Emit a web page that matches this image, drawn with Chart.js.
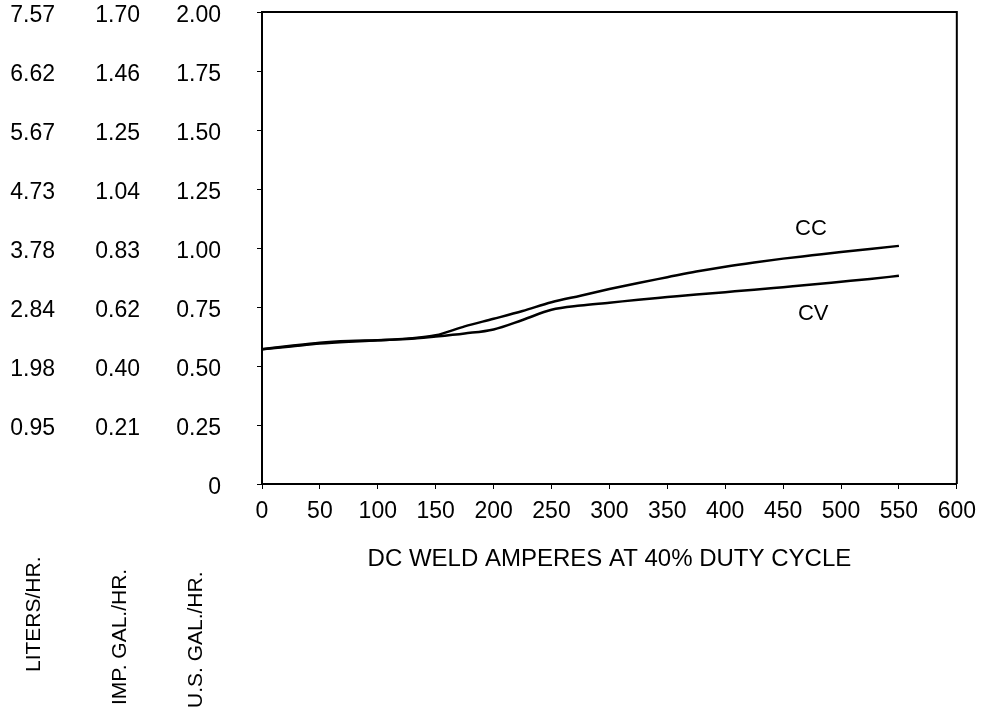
<!DOCTYPE html>
<html>
<head>
<meta charset="utf-8">
<title>Fuel consumption</title>
<script src="https://cdn.jsdelivr.net/npm/chart.js@4.4.1/dist/chart.umd.min.js"></script>
<style>
    html, body { margin: 0; padding: 0; background: #fff; }
    #wrap { position: relative; width: 985px; height: 713px; }
</style>
</head>
<body>
<div id="wrap"><canvas id="fuelChart"></canvas></div>
<script>
// --- Data: fuel use (U.S. gal/hr) against DC weld current ---
const amperes = [0, 25, 50, 75, 100, 125, 150, 175, 200, 225, 250, 275,
                 300, 325, 350, 375, 400, 425, 450, 475, 500, 525, 550];
const ccGalPerHr = [0.571, 0.583, 0.595, 0.603, 0.609, 0.616, 0.630, 0.668, 0.700, 0.733, 0.770, 0.798,
                    0.826, 0.852, 0.876, 0.900, 0.921, 0.939, 0.955, 0.969, 0.983, 0.996, 1.009];
const cvGalPerHr = [0.571, 0.586, 0.599, 0.606, 0.609, 0.614, 0.625, 0.638, 0.655, 0.695, 0.738, 0.756,
                    0.768, 0.781, 0.792, 0.803, 0.813, 0.823, 0.834, 0.845, 0.857, 0.869, 0.882];

// Tick labels for the three unit columns (same positions, 0 .. 2.00 US gal)
const usGalTicks  = ['0', '0.25', '0.50', '0.75', '1.00', '1.25', '1.50', '1.75', '2.00'];
const impGalTicks = ['', '0.21', '0.40', '0.62', '0.83', '1.04', '1.25', '1.46', '1.70'];
const literTicks  = ['', '0.95', '1.98', '2.84', '3.78', '4.73', '5.67', '6.62', '7.57'];

const FONT = "'Liberation Sans', Arial, Helvetica, sans-serif";
Chart.defaults.font.family = FONT;
Chart.defaults.color = '#000';

const tickFont = { size: 23 };

// fixed column width; label overhang is handled by layout.padding instead
function fixWidth(width) {
    return s => {
        s.width = width;
        s.paddingTop = 0;
        s.paddingBottom = 0;
    };
}

// secondary left columns: labels only, no line or tick marks
function unitColumn(labels, weight, width) {
    return {
        type: 'linear',
        position: 'left',
        weight: weight,
        min: 0,
        max: 2,
        ticks: { stepSize: 0.25, autoSkip: false, padding: 15, labelOffset: 4, font: tickFont,
                 callback: (v, i) => labels[i] },
        grid: { display: false, drawTicks: false },
        border: { display: false },
        afterFit: fixWidth(width)
    };
}

// top/right frame of the plot box
const frame = {
    id: 'frame',
    afterDatasetsDraw(chart) {
        const { ctx, chartArea: a } = chart;
        ctx.save();
        ctx.strokeStyle = '#000';
        ctx.lineWidth = 2;
        ctx.beginPath();
        ctx.moveTo(a.left, a.top);
        ctx.lineTo(a.right, a.top);
        ctx.lineTo(a.right, a.bottom);
        ctx.stroke();
        ctx.restore();
    }
};

// CC / CV names placed next to their curves
const seriesTags = {
    id: 'seriesTags',
    afterDatasetsDraw(chart, args, opts) {
        const { ctx, scales } = chart;
        ctx.save();
        ctx.font = `${opts.size}px ${FONT}`;
        ctx.fillStyle = '#000';
        ctx.textAlign = 'center';
        ctx.textBaseline = 'middle';
        opts.items.forEach(t => {
            ctx.fillText(t.text, scales.x.getPixelForValue(t.amp), scales.y.getPixelForValue(t.val));
        });
        ctx.restore();
    }
};

// vertical unit captions under each tick column
const unitCaptions = {
    id: 'unitCaptions',
    afterDraw(chart, args, opts) {
        const { ctx } = chart;
        ctx.save();
        ctx.font = `${opts.size}px ${FONT}`;
        ctx.fillStyle = '#000';
        ctx.textAlign = 'left';
        ctx.textBaseline = 'middle';
        opts.items.forEach(c => {
            ctx.save();
            ctx.translate(c.x, c.bottom);
            ctx.rotate(-Math.PI / 2);
            ctx.fillText(c.text, 0, 0);
            ctx.restore();
        });
        ctx.restore();
    }
};

const ctx = document.getElementById('fuelChart').getContext('2d');
new Chart(ctx, {
    type: 'line',
    data: {
        datasets: [
            { label: 'CC', data: amperes.map((a, i) => ({ x: a, y: ccGalPerHr[i] })) },
            { label: 'CV', data: amperes.map((a, i) => ({ x: a, y: cvGalPerHr[i] })) }
        ]
    },
    options: {
        responsive: true,
        maintainAspectRatio: false,
        animation: false,
        layout: { padding: { top: 12, right: 27, left: 0, bottom: 0 } },
        elements: {
            point: { radius: 0 },
            line: { borderColor: '#000', borderWidth: 2.5, cubicInterpolationMode: 'monotone', fill: false }
        },
        plugins: {
            legend: { display: false },
            tooltip: { enabled: false },
            seriesTags: {
                size: 22,
                items: [
                    { text: 'CC', amp: 474, val: 1.082 },
                    { text: 'CV', amp: 476, val: 0.721 }
                ]
            },
            unitCaptions: {
                size: 21,
                items: [
                    { text: 'LITERS/HR.',    x: 34,  bottom: 672 },
                    { text: 'IMP. GAL./HR.', x: 120, bottom: 705 },
                    { text: 'U.S. GAL./HR.', x: 196, bottom: 708 }
                ]
            }
        },
        scales: {
            x: {
                type: 'linear',
                min: 0,
                max: 600,
                ticks: { stepSize: 50, autoSkip: false, maxRotation: 0, padding: 9, font: tickFont },
                grid: { drawOnChartArea: false, tickLength: 5, color: '#000' },
                border: { color: '#000', width: 2 },
                title: {
                    display: true,
                    text: 'DC WELD AMPERES AT 40% DUTY CYCLE',
                    font: { size: 24 },
                    padding: { top: 0, bottom: 139 }
                },
                afterFit: s => { s.height = 229; }
            },
            y: {
                type: 'linear',
                position: 'left',
                weight: 0,
                min: 0,
                max: 2,
                ticks: { stepSize: 0.25, autoSkip: false, padding: 36, labelOffset: 4, font: tickFont,
                         callback: (v, i) => usGalTicks[i] },
                grid: { drawOnChartArea: false, tickLength: 5, color: '#000' },
                border: { color: '#000', width: 2 },
                afterFit: fixWidth(107)
            },
            yImp: unitColumn(impGalTicks, 1, 85),
            yLiters: unitColumn(literTicks, 2, 70)
        }
    },
    plugins: [frame, seriesTags, unitCaptions]
});
</script>
</body>
</html>
